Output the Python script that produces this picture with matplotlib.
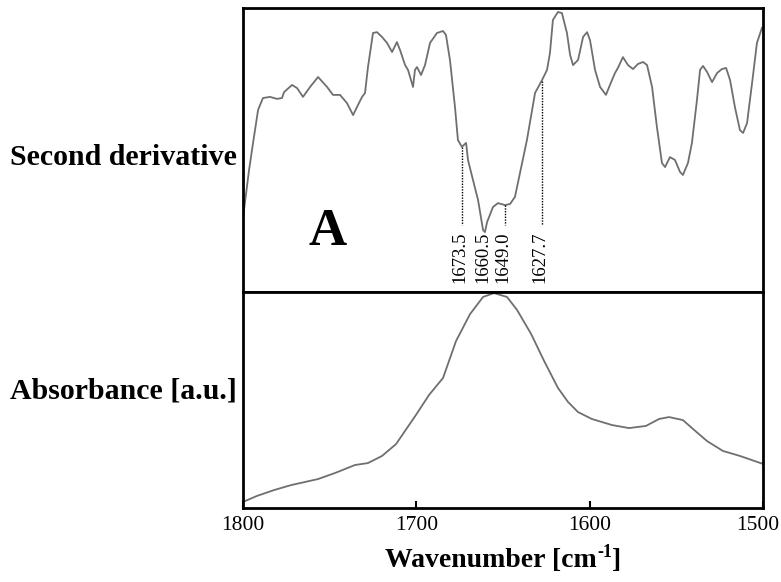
import numpy as np
import matplotlib
matplotlib.use("Agg")
import matplotlib.pyplot as plt
from matplotlib.transforms import IdentityTransform, offset_copy, ScaledTranslation

plt.rcParams['font.family'] = ['Liberation Serif', 'DejaVu Serif']

# Second-derivative spectrum (arbitrary units)
deriv_wn = [1800.0, 1796.5, 1794.2, 1791.3, 1788.5, 1784.4, 1780.4, 1777.5, 1776.3, 1771.7,
            1768.8, 1765.4, 1761.3, 1756.7, 1751.5, 1748.1, 1744.0, 1740.0, 1736.5, 1733.7,
            1731.3, 1729.6, 1727.9, 1725.0, 1722.7, 1719.8, 1716.9, 1714.0, 1711.2, 1709.4,
            1706.5, 1704.8, 1701.9, 1700.8, 1699.6, 1697.3, 1695.0, 1692.1, 1688.1, 1684.6,
            1682.9, 1680.6, 1677.7, 1676.0, 1673.7, 1671.3, 1670.2, 1667.3, 1664.4, 1661.5,
            1660.4, 1659.2, 1655.8, 1652.9, 1648.8, 1645.9, 1643.1, 1640.2, 1636.2, 1631.5,
            1627.5, 1624.6, 1622.9, 1621.2, 1618.3, 1616.0, 1613.1, 1611.3, 1609.6, 1606.7,
            1603.8, 1601.5, 1599.8, 1596.9, 1594.0, 1590.6, 1588.3, 1585.4, 1583.7, 1580.8,
            1577.9, 1575.0, 1572.1, 1569.2, 1566.9, 1564.0, 1561.2, 1558.3, 1556.5, 1553.7,
            1550.8, 1547.9, 1546.2, 1543.3, 1541.0, 1538.1, 1536.3, 1534.6, 1532.3, 1529.4,
            1526.5, 1523.7, 1521.3, 1519.0, 1516.2, 1513.3, 1511.5, 1509.2, 1506.3, 1503.5,
            1500.6]
deriv_val = [26.1, 43.0, 52.5, 64.1, 68.3, 68.7, 68.0, 68.3, 70.4, 72.9,
             71.8, 68.7, 72.2, 75.7, 72.2, 69.4, 69.4, 66.5, 62.3, 65.8,
             68.7, 70.1, 79.2, 91.2, 91.5, 89.8, 87.7, 84.5, 88.0, 85.2,
             79.9, 78.2, 72.2, 78.2, 79.2, 76.4, 79.9, 87.7, 91.2, 91.9,
             90.5, 81.7, 65.1, 53.5, 51.1, 52.5, 46.5, 39.4, 32.4, 21.8,
             21.1, 24.6, 29.9, 31.3, 30.6, 31.0, 33.5, 41.9, 53.5, 70.1,
             74.6, 78.2, 84.2, 95.8, 98.6, 98.2, 91.2, 83.5, 79.9, 81.7,
             89.8, 91.5, 88.7, 78.2, 72.2, 69.4, 72.9, 77.1, 78.9, 82.7,
             79.9, 78.5, 80.3, 81.0, 79.9, 72.2, 58.1, 45.4, 44.0, 47.5,
             46.5, 42.3, 41.2, 45.4, 52.5, 67.6, 78.2, 79.6, 77.5, 73.9,
             77.1, 78.5, 78.9, 74.6, 65.1, 57.0, 56.0, 59.5, 73.6, 87.7,
             93.0]

# Absorbance spectrum (normalised)
abs_wn = [1800.0, 1791.9, 1782.1, 1772.3, 1756.7, 1746.9, 1735.4, 1727.9, 1719.8, 1711.7,
          1700.2, 1692.7, 1684.6, 1677.1, 1669.0, 1661.5, 1655.2, 1647.7, 1641.9, 1633.8,
          1626.3, 1618.3, 1612.5, 1606.7, 1598.7, 1587.1, 1577.3, 1567.5, 1560.0, 1554.2,
          1546.2, 1540.4, 1532.3, 1523.1, 1513.3, 1500.0]
abs_val = [0.028, 0.056, 0.083, 0.106, 0.134, 0.162, 0.199, 0.208, 0.241, 0.296,
           0.431, 0.523, 0.602, 0.773, 0.898, 0.977, 0.995, 0.977, 0.917, 0.806,
           0.681, 0.556, 0.491, 0.444, 0.412, 0.384, 0.370, 0.380, 0.412, 0.421,
           0.407, 0.366, 0.310, 0.264, 0.241, 0.204]

# Assigned band positions
band_wn = [1673.5, 1660.5, 1649.0, 1627.7]
band_labels = ["1673.5", "1660.5", "1649.0", "1627.7"]
band_dropline = [True, False, True, True]

x_ticks = [1800, 1700, 1600, 1500]

curve_color = '#6f6f6f'
W, H = 781, 582
fig = plt.figure(figsize=(W / 100, H / 100), dpi=100)

left = 243 / W
width = 520 / W
ax_top = fig.add_axes([left, 1 - 292 / H, width, 284 / H])
ax_bot = fig.add_axes([left, 1 - 508 / H, width, 216 / H], sharex=ax_top)

ax_top.plot(deriv_wn, deriv_val, color=curve_color, lw=1.3)
ax_bot.plot(abs_wn, abs_val, color=curve_color, lw=1.3)

ax_top.set_xlim(1800, 1500)
ax_top.set_ylim(0, 100)
ax_bot.set_ylim(0, 1)

# drop lines and labels for the band positions
order = np.argsort(deriv_wn)
xs = np.asarray(deriv_wn)[order]
ys = np.asarray(deriv_val)[order]
line_bottom = 23.6
label_tr = offset_copy(ax_top.transData, fig=fig, x=-2, y=0, units='dots')
for wn, lab, drop in zip(band_wn, band_labels, band_dropline):
    if drop:
        ytop = np.interp(wn, xs, ys)
        ax_top.plot([wn, wn], [ytop, line_bottom], color='black', lw=1.0,
                    linestyle=(0, (1, 1)))
    ax_top.text(wn, 21.3, lab, rotation=90, ha='center', va='top',
                fontsize=13.5, transform=label_tr)

ax_top.text(1751, 16.5, "A", fontsize=38, fontweight='bold', ha='center',
            va='baseline')

for ax in (ax_top, ax_bot):
    for s in ax.spines.values():
        s.set_linewidth(2.0)
        s.set_color('black')
    ax.set_yticks([])

ax_top.tick_params(axis='x', which='both', bottom=False, labelbottom=False)
ax_bot.set_xticks(x_ticks)
ax_bot.set_xticklabels([str(t) for t in x_ticks])
ax_bot.tick_params(axis='x', direction='in', length=5, width=1.5, pad=5.5,
                   labelsize=15.5)
# keep the last tick label inside the canvas
last = ax_bot.get_xticklabels()[-1]
last.set_transform(last.get_transform()
                   + ScaledTranslation(-4 / 72, 0, fig.dpi_scale_trans))

fig.text(10, H - 165, "Second derivative", transform=IdentityTransform(),
         fontsize=21.5, fontweight='bold', ha='left', va='baseline')
fig.text(10, H - 398, "Absorbance [a.u.]", transform=IdentityTransform(),
         fontsize=21.5, fontweight='bold', ha='left', va='baseline')

# x-axis title with a raised "-1"
renderer = fig.canvas.get_renderer()
def text_width(s, size):
    t = fig.text(0, 0, s, fontsize=size, fontweight='bold')
    w = t.get_window_extent(renderer).width
    t.remove()
    return w

main_s, sup_s, end_s = "Wavenumber [cm", "-1", "]"
main_size, sup_size = 20, 13
w1 = text_width(main_s, main_size)
w2 = text_width(sup_s, sup_size)
w3 = text_width(end_s, main_size)
x0 = 503 - (w1 + w2 + w3) / 2
base = H - 567
fig.text(x0, base, main_s, transform=IdentityTransform(), fontsize=main_size,
         fontweight='bold', va='baseline')
fig.text(x0 + w1, base + 10, sup_s, transform=IdentityTransform(),
         fontsize=sup_size, fontweight='bold', va='baseline')
fig.text(x0 + w1 + w2, base, end_s, transform=IdentityTransform(),
         fontsize=main_size, fontweight='bold', va='baseline')

fig.savefig("out.png", dpi=100)
